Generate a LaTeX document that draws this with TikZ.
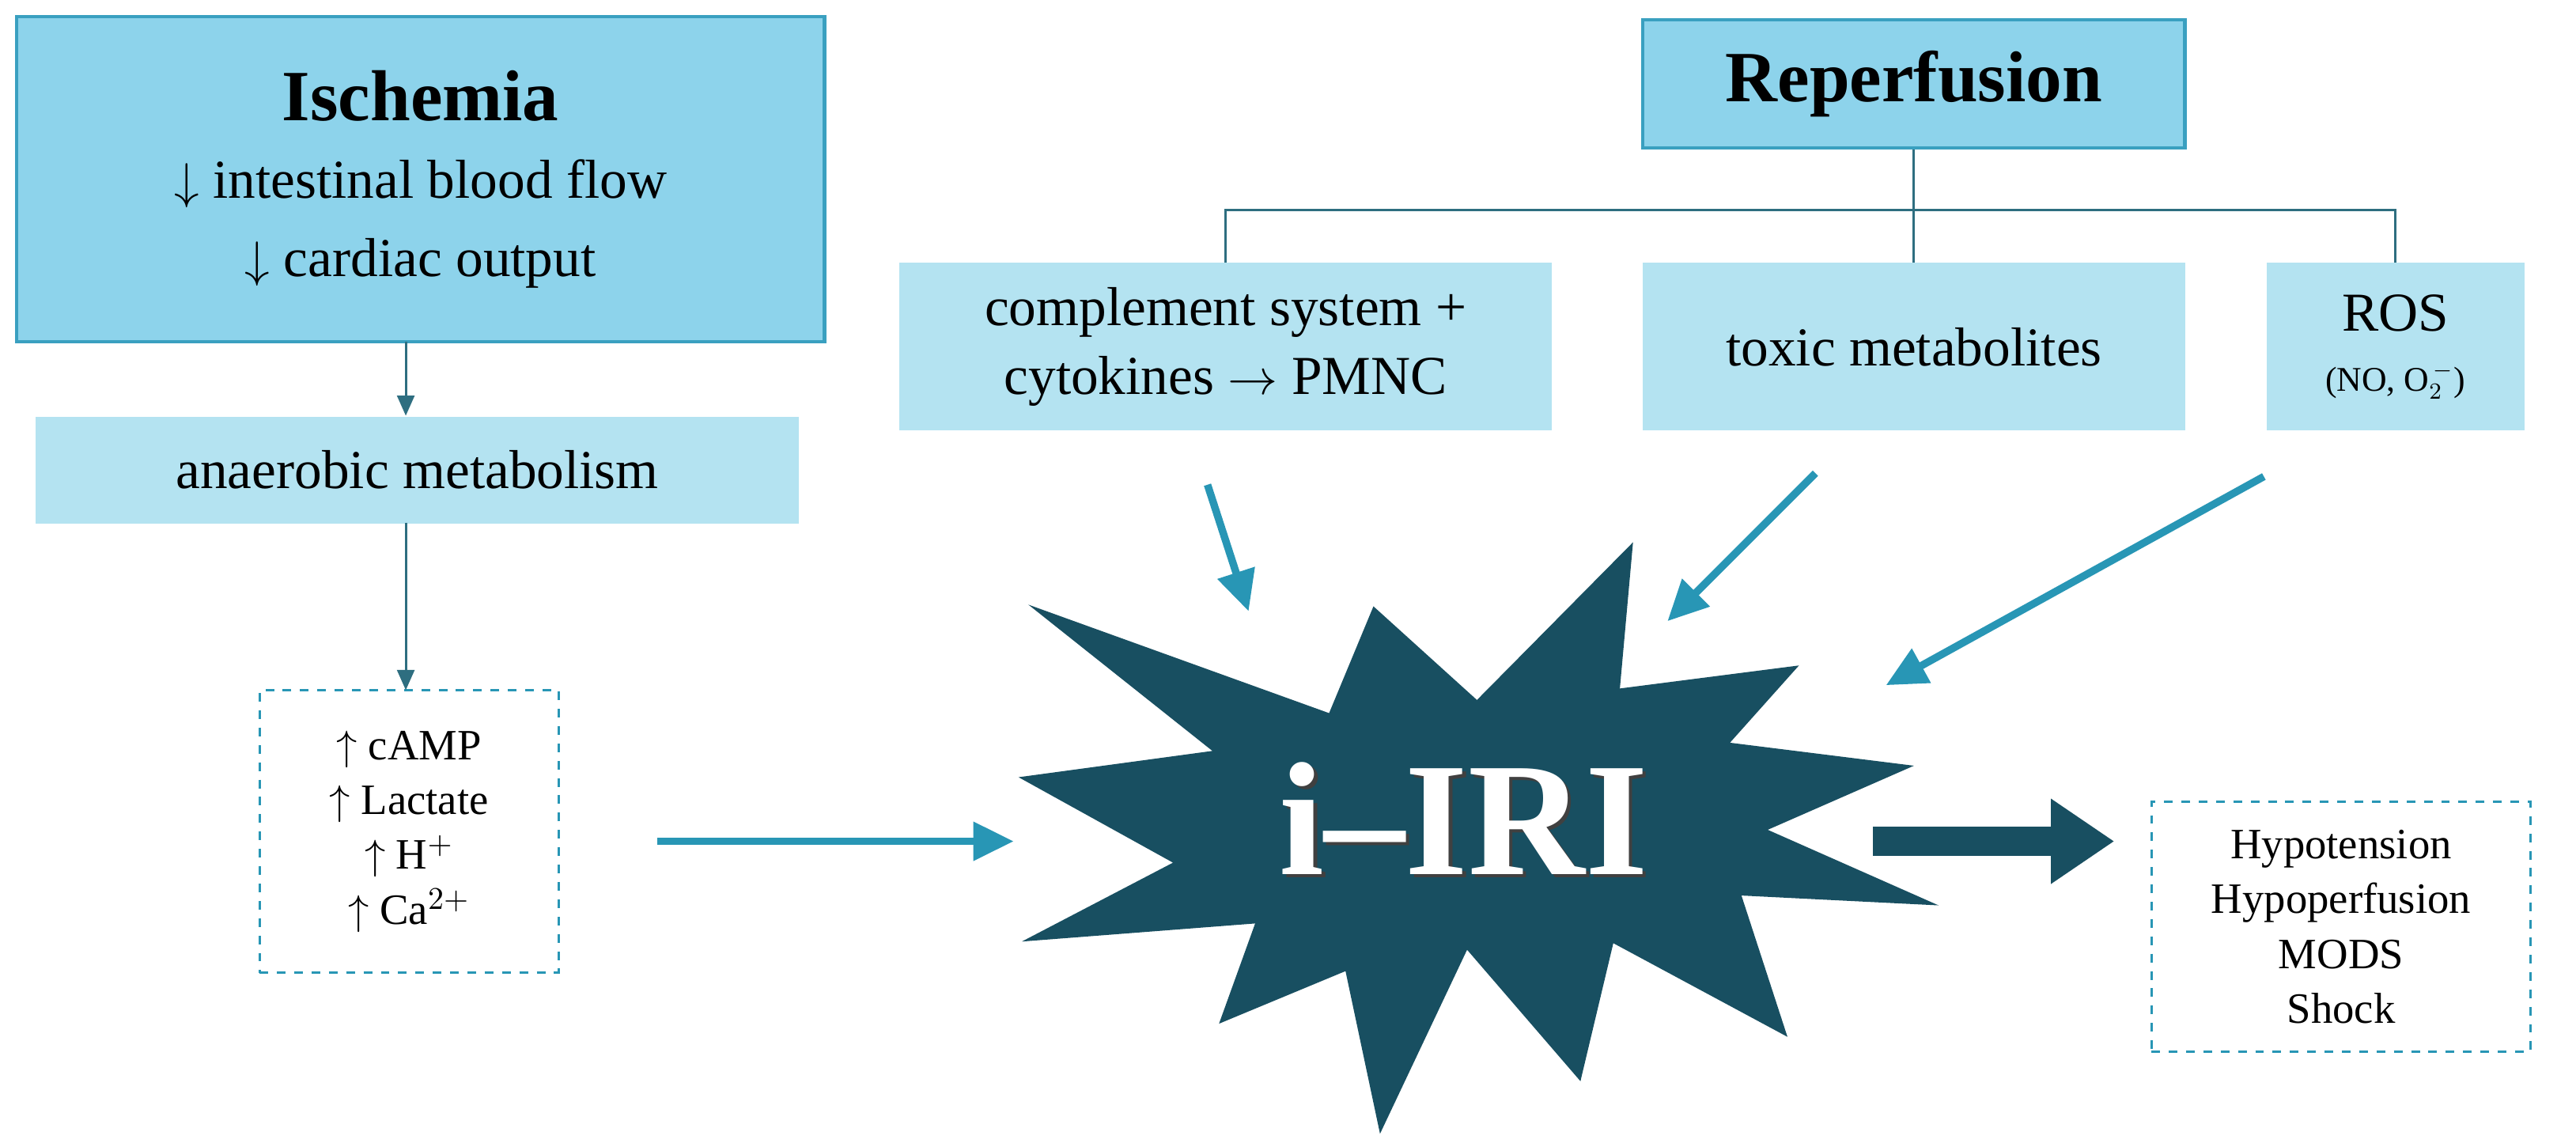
\documentclass[tikz,border=0pt]{standalone}
\usepackage{fontspec}
\setmainfont{Liberation Serif}
\usetikzlibrary{arrows.meta}
\definecolor{mid}{HTML}{8DD3EB}
\definecolor{midb}{HTML}{3AA0C0}
\definecolor{light}{HTML}{B4E3F1}
\definecolor{teal}{HTML}{2896B5}
\definecolor{dark}{HTML}{184F61}
\definecolor{tline}{HTML}{2E6E80}
\begin{document}
\begin{tikzpicture}[x=0.02cm,y=-0.02cm,
  lbox/.style={fill=light,draw=none,inner sep=0pt,align=center,font=\fontsize{19}{24}\selectfont},
  dbox/.style={draw=teal,dashed,line width=0.8pt,inner sep=0pt,align=center,font=\fontsize{15}{19}\selectfont},
  tarr/.style={draw=teal,line width=2.6pt,-{Triangle[length=14pt,width=13pt]}},
  sarr/.style={draw=tline,line width=0.8pt,-{Triangle[length=7pt,width=6pt]}}]
\useasboundingbox (0,0) rectangle (1568,698);
% Ischemia
\node[fill=mid,draw=midb,line width=1.2pt,inner sep=0pt,align=center,font=\fontsize{19}{27}\selectfont,
  minimum width=9.84cm,minimum height=3.96cm] (isch) at (256,109)
  {{\fontsize{25}{27}\selectfont\bfseries Ischemia}\\$\downarrow$ intestinal blood flow\\$\downarrow$ cardiac output};
\node[lbox,minimum width=9.3cm,minimum height=1.3cm] (anae) at (254,286) {anaerobic metabolism};
\node[dbox,minimum width=3.64cm,minimum height=3.44cm] (lab) at (249,506)
  {$\uparrow$ cAMP\\$\uparrow$ Lactate\\$\uparrow$ H$^{+}$\\$\uparrow$ Ca$^{2+}$};
\coordinate (i1) at (247,208); \coordinate (i2) at (247,253);
\coordinate (i3) at (247,318); \coordinate (i4) at (247,420);
\draw[sarr] (i1) -- (i2);
\draw[sarr] (i3) -- (i4);
% Reperfusion
\node[fill=mid,draw=midb,line width=1.2pt,inner sep=0pt,minimum width=6.6cm,minimum height=1.56cm,
  font=\fontsize{25}{30}\selectfont\bfseries] (rep) at (1165,51) {Reperfusion};
\node[lbox,minimum width=7.94cm,minimum height=2.04cm] (comp) at (746,211) {complement system +\\cytokines $\rightarrow$ PMNC};
\node[lbox,minimum width=6.6cm,minimum height=2.04cm] (tox) at (1165,211) {toxic metabolites};
\node[lbox,minimum width=3.14cm,minimum height=2.04cm] (ros) at (1458,211) {ROS\\[-3pt]{\fontsize{12}{14}\selectfont (NO, O$_2^{\,-}$)}};
\coordinate (j) at (1165,128);
\draw[draw=tline,line width=0.8pt] (rep.south) -- (j);
\draw[draw=tline,line width=0.8pt] (comp.north) |- (j) -| (ros.north);
\draw[draw=tline,line width=0.8pt] (j) -- (tox.north);
% star
\fill[dark] (626,368) -- (809,434) -- (836,369) -- (899,426) -- (994,330) -- (986,419) -- (1095,405)
 -- (1053,452) -- (1165,466) -- (1076,505) -- (1180,551) -- (1060,545) -- (1088,631) -- (982,574)
 -- (962,658) -- (893,578) -- (840,690) -- (819,591) -- (742,623) -- (764,562) -- (622,573)
 -- (714,525) -- (620,473) -- (738,457) -- cycle;
\node[text=black!75,font=\fontsize{56}{60}\selectfont\bfseries] at (893,500) {i--IRI};
\node[text=white,font=\fontsize{56}{60}\selectfont\bfseries] (iri) at (891,498) {i--IRI};
% connectors to star
\coordinate (a1) at (735,295); \coordinate (b1) at (760,372);
\coordinate (a2) at (1105,288); \coordinate (b2) at (1015,378);
\coordinate (a3) at (1378,290); \coordinate (b3) at (1148,417);
\coordinate (a4) at (400,512); \coordinate (b4) at (617,512);
\draw[tarr] (a1) -- (b1);
\draw[tarr] (a2) -- (b2);
\draw[tarr] (a3) -- (b3);
\draw[tarr] (a4) -- (b4);
% outcome
\node[dbox,minimum width=4.62cm,minimum height=3.04cm] (out) at (1425,564)
  {Hypotension\\Hypoperfusion\\MODS\\Shock};
\coordinate (c1) at (1140,512); \coordinate (c2) at (1287,512);
\draw[dark,line width=10pt,-{Triangle[length=22pt,width=28pt]}] (c1) -- (c2);
\end{tikzpicture}
\end{document}
